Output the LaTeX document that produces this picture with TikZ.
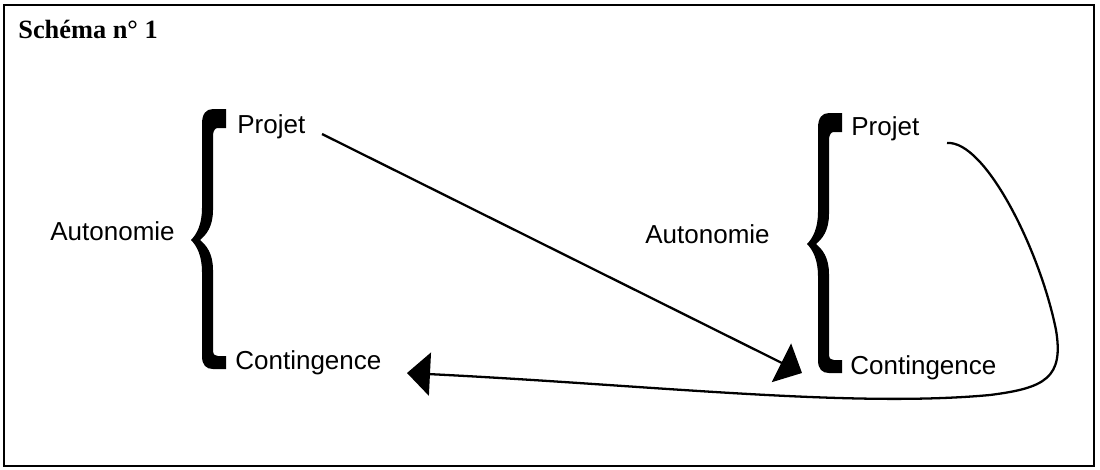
\documentclass[tikz,border=0pt]{standalone}
\usepackage{fontspec}
\setmainfont{Liberation Serif}
\newfontfamily\lsans{Liberation Sans}
\usetikzlibrary{arrows.meta}
\tikzset{
  lbl/.style={inner sep=0pt, anchor=base west, font=\lsans\fontsize{14.8}{16}\selectfont},
  ttl/.style={inner sep=0pt, anchor=base west, font=\bfseries\fontsize{15}{17}\selectfont},
  arr/.style={line width=1.3pt, -{Triangle[length=0.46cm, width=0.86cm]}},
  frame/.style={line width=1.2pt},
  bracepic/.pic={
    \fill (226,109) -- (226,128) -- (217,128)
      .. controls (214,129) and (213,132) .. (213,137) -- (213,210)
      .. controls (213,227) and (206,235) .. (200,240)
      .. controls (206,245) and (213,253) .. (213,270) -- (213,350)
      .. controls (213,355) and (215,356) .. (218,356) -- (226,356) -- (226,369) -- (213,369)
      .. controls (206,369) and (202,365) .. (202,356) -- (202,272)
      .. controls (202,256) and (197,246) .. (191,240)
      .. controls (197,234) and (202,224) .. (202,208) -- (202,124)
      .. controls (202,114) and (206,109) .. (213,109) -- cycle;
  }
}
\begin{document}
\begin{tikzpicture}[x=0.02cm, y=-0.02cm]
\useasboundingbox (0,0) rectangle (1100,470);
\draw[frame] (4,5) rectangle (1094,466);
\node[ttl] (title) at (18,38) {Schéma n° 1};
% left group
\pic at (0,0) {bracepic};
\node[lbl] (auto1) at (50,240) {Autonomie};
\node[lbl] (proj1) at (237,133) {Projet};
\node[lbl] (cont1) at (235,369) {Contingence};
% right group
\pic at (616,4) {bracepic};
\node[lbl] (auto2) at (645,243) {Autonomie};
\node[lbl] (proj2) at (851,135) {Projet};
\node[lbl] (cont2) at (850,374) {Contingence};
% connectors
\coordinate (s1) at (322,134);
\coordinate (t1) at (802,373);
\coordinate (s2) at (947,143);
\coordinate (t2) at (407,373);
\draw[arr] (s1) -- (t1);
\draw[arr] (s2) .. controls (985,140) and (1040,250) .. (1056,330)
  .. controls (1064,378) and (1045,388) .. (990,395)
  .. controls (850,408) and (650,385) .. (t2);
\end{tikzpicture}
\end{document}
